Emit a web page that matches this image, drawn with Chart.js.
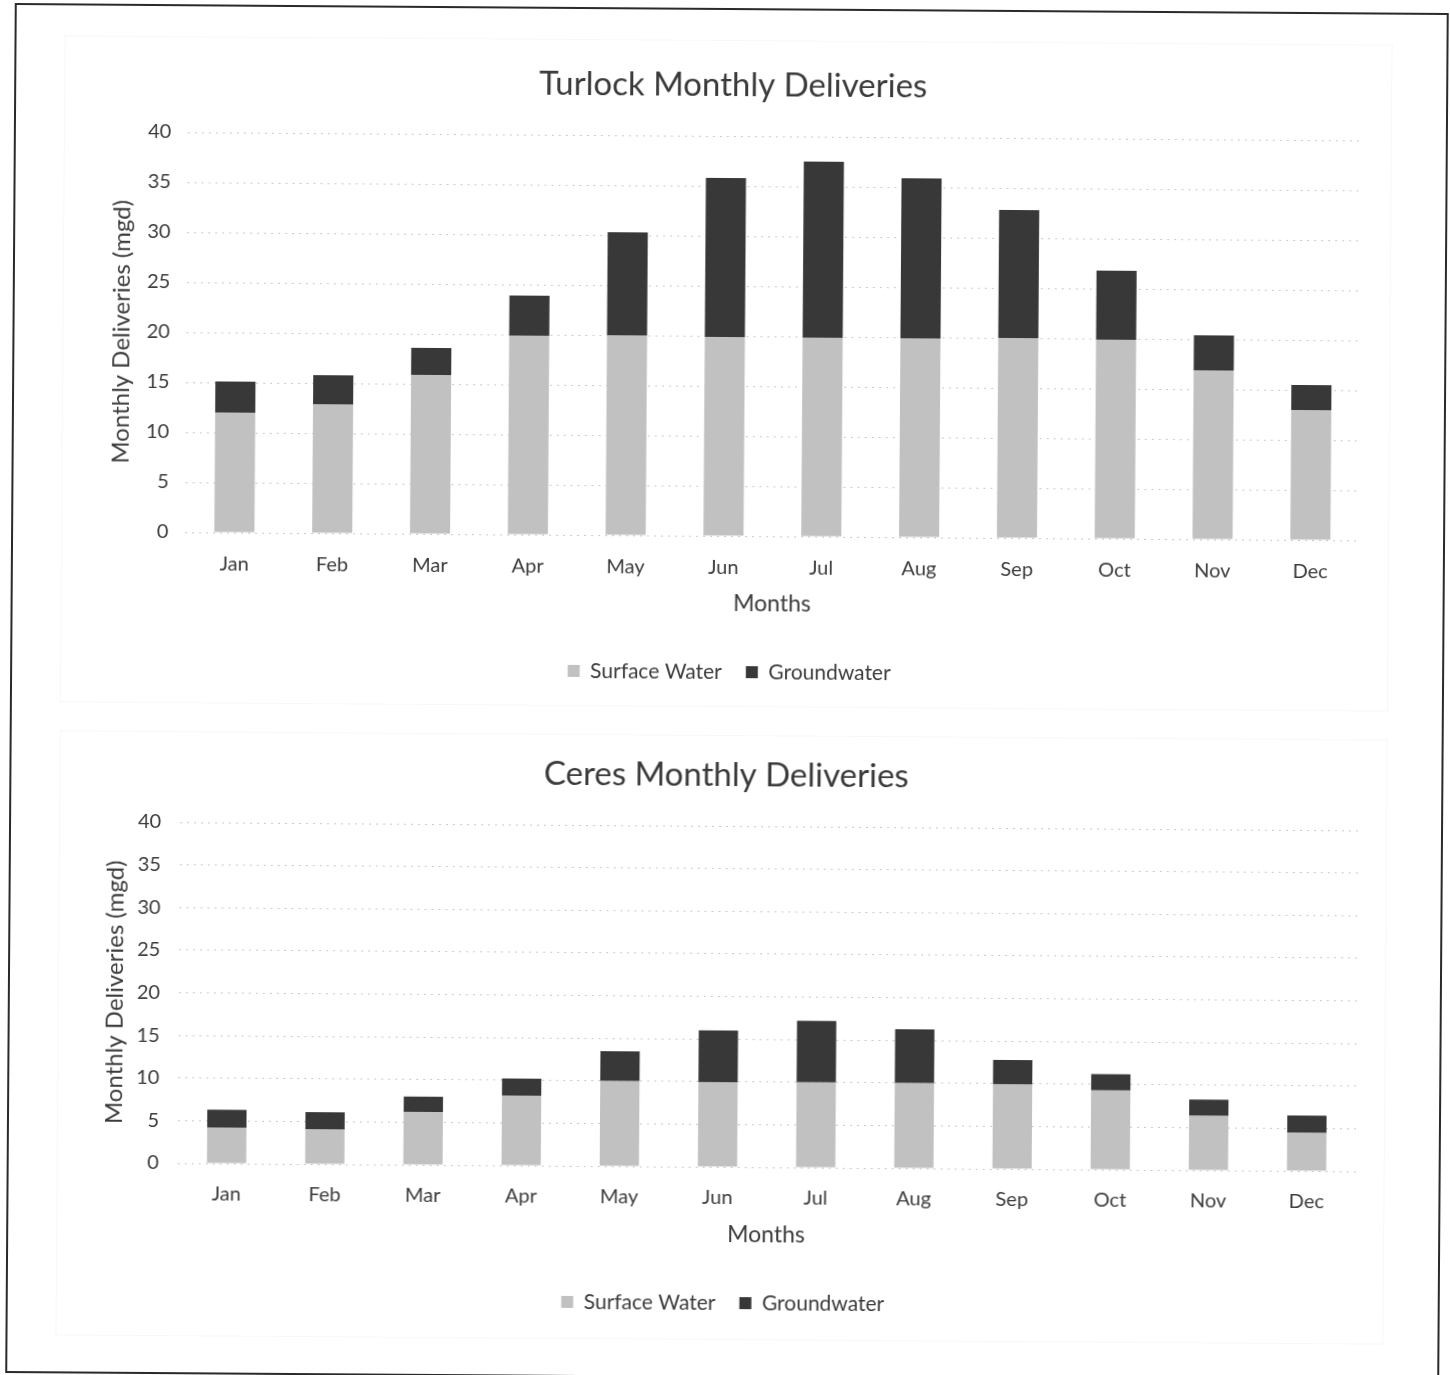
<!DOCTYPE html>
<html>
<head>
<meta charset="utf-8">
<title>Turlock and Ceres Monthly Deliveries</title>
<script src="https://cdn.jsdelivr.net/npm/chart.js@4/dist/chart.umd.min.js"></script>
<style>
  html, body { margin: 0; padding: 0; background: #ffffff; }
  body { width: 1450px; height: 1375px; overflow: hidden; position: relative; }
  #page {
    position: absolute; left: 0; top: 0; width: 1450px; height: 1375px;
    transform: rotate(0.4deg); transform-origin: 725px 690px;
  }
  #frame {
    position: absolute; left: 10px; top: 8px; width: 1434px; height: 1370px;
    border: 2px solid #2a2a2a; box-sizing: border-box;
  }
  .chartbox {
    position: absolute; left: 60px; width: 1328px;
    border: 1px dotted #f0f0f0; box-sizing: border-box;
  }
  canvas { position: absolute; left: 0; }
</style>
</head>
<body>
<div id="page">
  <div id="frame"></div>
  <div class="chartbox" style="top:40px;height:667px;"></div>
  <div class="chartbox" style="top:735px;height:605px;"></div>
  <canvas id="turlock" width="1450" height="700" style="top:0px;"></canvas>
  <canvas id="ceres" width="1450" height="675" style="top:700px;"></canvas>
</div>
<script>
// Month categories shared by both charts
const months = ['Jan', 'Feb', 'Mar', 'Apr', 'May', 'Jun', 'Jul', 'Aug', 'Sep', 'Oct', 'Nov', 'Dec'];

// Turlock deliveries (mgd)
const turlockSurface = [12.0, 12.9, 15.9, 19.9, 20.0, 19.9, 19.9, 19.9, 20.0, 19.9, 16.9, 13.0];
const turlockGround  = [3.1, 2.9, 2.7, 4.0, 10.3, 15.9, 17.6, 16.0, 12.8, 6.9, 3.5, 2.5];

// Ceres deliveries (mgd)
const ceresSurface = [4.2, 4.1, 6.2, 8.2, 10.0, 9.9, 10.0, 10.0, 9.9, 9.3, 6.4, 4.5];
const ceresGround  = [2.1, 2.0, 1.8, 2.0, 3.5, 6.1, 7.2, 6.3, 2.9, 1.9, 1.9, 2.0];

// Axis settings
const yMin = 0;
const yMax = 40;
const yStep = 5;

const FONT = "Lato, 'Open Sans', sans-serif";
const TEXT = '#3c3c3c';
const SURFACE_COLOR = '#c1c1c1';
const GROUND_COLOR = '#383838';

Chart.defaults.font.family = FONT;
Chart.defaults.color = TEXT;

function buildChart(canvasId, title, surface, ground, g) {
  return new Chart(document.getElementById(canvasId), {
    type: 'bar',
    data: {
      labels: months,
      datasets: [
        { label: 'Surface Water', data: surface, backgroundColor: SURFACE_COLOR,
          borderWidth: 0, categoryPercentage: 1, barPercentage: g.bar },
        { label: 'Groundwater', data: ground, backgroundColor: GROUND_COLOR,
          borderWidth: 0, categoryPercentage: 1, barPercentage: g.bar }
      ]
    },
    options: {
      responsive: false,
      animation: false,
      devicePixelRatio: 1,
      layout: { padding: { left: g.left, right: g.right, top: 0, bottom: g.bottom } },
      plugins: {
        title: {
          display: true, text: title, color: '#3a3a3a',
          font: { size: 33, weight: 'normal' },
          padding: { top: g.titleTop, bottom: g.titleBottom }
        },
        legend: {
          position: 'bottom',
          labels: { boxWidth: 12, boxHeight: 12, padding: 24, color: TEXT, font: { size: 21 } }
        },
        tooltip: { enabled: false }
      },
      scales: {
        x: {
          stacked: true,
          grid: { display: false, drawTicks: false },
          border: { display: false },
          ticks: { padding: g.xTickPad, font: { size: 20 }, color: TEXT },
          title: { display: true, text: 'Months', font: { size: 23 }, color: TEXT,
                   padding: { top: 0, bottom: g.xTitlePad } },
          afterFit: (s) => { s.height = g.xHeight; }
        },
        y: {
          stacked: true,
          min: yMin, max: yMax,
          grid: { color: '#c9c9c9', lineWidth: 1, drawTicks: false },
          border: { display: false, dash: [2, 5] },
          ticks: { stepSize: yStep, padding: g.yTickPad, font: { size: 20 }, color: TEXT },
          title: { display: true, text: 'Monthly Deliveries (mgd)', font: { size: 24 }, color: TEXT,
                   padding: { top: g.yTitlePad, bottom: 0 } },
          afterFit: (s) => { s.width = g.yWidth; }
        }
      }
    }
  });
}

buildChart('turlock', 'Turlock Monthly Deliveries', turlockSurface, turlockGround, {
  left: 100, right: 91.8, bottom: 7.5, bar: 0.41,
  titleTop: 65.2, titleBottom: 31.2,
  xTickPad: 20, xTitlePad: 19.7, xHeight: 101.5,
  yTickPad: 17, yTitlePad: 5, yWidth: 84.4
});

buildChart('ceres', 'Ceres Monthly Deliveries', ceresSurface, ceresGround, {
  left: 95, right: 91, bottom: 51.5, bar: 0.40,
  titleTop: 55.2, titleBottom: 31.2,
  xTickPad: 19, xTitlePad: 19.7, xHeight: 101.5,
  yTickPad: 18.6, yTitlePad: 7.6, yWidth: 85.8
});
</script>
</body>
</html>
